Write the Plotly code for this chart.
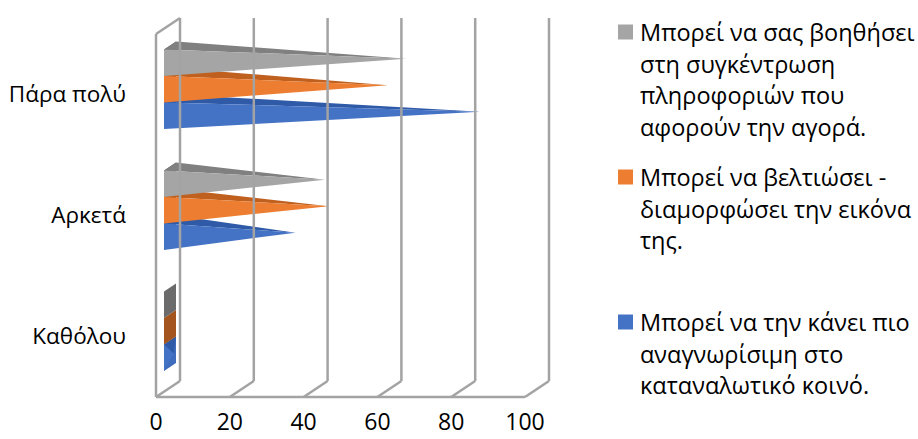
import plotly.graph_objects as go

# ---------------- data ----------------
categories = ["Καθόλου", "Αρκετά", "Πάρα πολύ"]          # bottom -> top
series_lines = [
    ["Μπορεί να την κάνει πιο", "αναγνωρίσιμη στο", "καταναλωτικό κοινό."],
    ["Μπορεί να βελτιώσει -", "διαμορφώσει την εικόνα", "της."],
    ["Μπορεί να σας βοηθήσει", "στη συγκέντρωση", "πληροφοριών που", "αφορούν την αγορά."],
]
blue_values = [1, 34, 84]
orange_values = [0, 43, 59]
grey_values = [0, 42, 64]
x_ticks = [0, 20, 40, 60, 80, 100]

values = [blue_values, orange_values, grey_values]
front_colors = ["#4472c4", "#ed7d31", "#a5a5a5"]
top_colors = ["#2f5aa8", "#c0601f", "#808080"]
base_colors = ["#3f6cbc", "#a4541f", "#6b6b6b"]

# ---------------- geometry (pixels) ----------------
W, H = 918, 439
FX0, FX1 = 156, 525          # front plane x for 0 and 100
FYB, FYT = 397, 34           # front plane y bottom / top
DEPX, DEPY = 24, 16          # full depth offset (right, up)
BAR_FRONT, BAR_BACK = 1 / 3, 5 / 6
mid = (BAR_FRONT + BAR_BACK) / 2

sx = (FX1 - FX0) / 100.0
sy = (FYB - FYT) / 3.0


def pxx(p):
    return p / W


def pxy(p):
    return 1 - p / H


def xdom(shift, lo, hi):
    return [pxx(FX0 + shift + lo * sx), pxx(FX0 + shift + hi * sx)]


def ydom(shift, lo, hi):
    return [pxy(FYB - shift - (lo + 0.5) * sy), pxy(FYB - shift - (hi + 0.5) * sy)]


dx = (BAR_BACK - BAR_FRONT) / 2 * DEPX / sx     # half bar depth in x units
dy = (BAR_BACK - BAR_FRONT) / 2 * DEPY / sy     # half bar depth in y units
half_h = 0.1095                                # half bar height (y units)
slot = 2 * half_h

fig = go.Figure()

# invisible trace so the labelled front axes are drawn
fig.add_trace(go.Scatter(x=[None], y=[None], xaxis="x", yaxis="y", mode="markers",
                         hoverinfo="skip", showlegend=False))

for si in range(3):
    off = (si - 1) * slot
    for ci, v in enumerate(values[si]):
        c = ci + off
        fig.add_trace(go.Scatter(
            x=[-dx, -dx, dx, dx, -dx],
            y=[c - half_h - dy, c + half_h - dy, c + half_h + dy, c - half_h + dy, c - half_h - dy],
            fill="toself", mode="lines", line=dict(width=0), fillcolor=base_colors[si],
            xaxis="x2", yaxis="y2", hoverinfo="skip", showlegend=False))
        if v > 0:
            fig.add_trace(go.Scatter(
                x=[-dx, dx, v, -dx],
                y=[c + half_h - dy, c + half_h + dy, c, c + half_h - dy],
                fill="toself", mode="lines", line=dict(width=0), fillcolor=top_colors[si],
                xaxis="x2", yaxis="y2", hoverinfo="skip", showlegend=False))
            fig.add_trace(go.Scatter(
                x=[-dx, -dx, v, -dx],
                y=[c + half_h - dy, c - half_h - dy, c, c + half_h - dy],
                fill="toself", mode="lines", line=dict(width=0), fillcolor=front_colors[si],
                xaxis="x2", yaxis="y2", hoverinfo="skip", showlegend=False))

# ---------------- 3D frame ----------------
line_style = dict(color="#a3a3a3", width=2.5)
shapes = []
for t in x_ticks:
    shapes.append(dict(type="line", xref="x3", yref="y3", x0=t, x1=t, y0=-0.5, y1=2.5,
                       line=line_style, layer="below"))
    shapes.append(dict(type="line", xref="x4", yref="y4", xsizemode="pixel", ysizemode="pixel",
                       xanchor=t, yanchor=-0.5, x0=0, x1=DEPX, y0=0, y1=DEPY,
                       line=line_style, layer="below"))
shapes.append(dict(type="line", xref="x4", yref="y4", x0=0, x1=100, y0=-0.5, y1=-0.5,
                   line=line_style, layer="below"))
shapes.append(dict(type="line", xref="x4", yref="y4", x0=0, x1=0, y0=-0.5, y1=2.5,
                   line=line_style, layer="below"))
shapes.append(dict(type="line", xref="x4", yref="y4", xsizemode="pixel", ysizemode="pixel",
                   xanchor=0, yanchor=2.5, x0=0, x1=DEPX, y0=0, y1=DEPY,
                   line=line_style, layer="below"))

# ---------------- legend (custom) ----------------
font_family = "Open Sans"
legend_tops = [322, 177, 32]     # blue, orange, grey (pixel y of first line)
line_gap = 31.7
annotations = []
for si in range(3):
    y0 = legend_tops[si]
    shapes.append(dict(type="rect", xref="paper", yref="paper",
                       x0=pxx(618), x1=pxx(633), y0=pxy(y0 + 7.5), y1=pxy(y0 - 7.5),
                       fillcolor=front_colors[si], line=dict(width=0)))
    for li, txt in enumerate(series_lines[si]):
        annotations.append(dict(xref="paper", yref="paper", x=pxx(638), y=pxy(y0 + li * line_gap),
                                xanchor="left", yanchor="middle", text=txt, showarrow=False,
                                font=dict(family=font_family, size=23.5, color="#000000")))

hidden = dict(visible=False, showgrid=False, zeroline=False, fixedrange=True)

fig.update_layout(
    template="none",
    width=W, height=H,
    margin=dict(l=0, r=0, t=0, b=0),
    paper_bgcolor="white", plot_bgcolor="rgba(0,0,0,0)",
    showlegend=False,
    font=dict(family=font_family, size=22, color="#000000"),
    xaxis=dict(domain=xdom(0, 0, 100), range=[0, 100], tickvals=x_ticks,
               showgrid=False, zeroline=False, showline=False, ticks="",
               ticklabelstandoff=9, anchor="y", automargin=False, fixedrange=True,
               tickfont=dict(size=23, family=font_family, color="#000000")),
    yaxis=dict(domain=ydom(0, -0.5, 2.5), range=[-0.5, 2.5], tickvals=[0, 1, 2],
               ticktext=categories, showgrid=False, zeroline=False, showline=False,
               ticks="", ticklabelstandoff=29, anchor="x", automargin=False, fixedrange=True,
               tickfont=dict(size=22.5, family=font_family, color="#000000")),
    xaxis2=dict(domain=xdom(mid * DEPX, -5, 100), range=[-5, 100], anchor="y2", **hidden),
    yaxis2=dict(domain=ydom(mid * DEPY, -0.5, 2.5), range=[-0.5, 2.5], anchor="x2", **hidden),
    xaxis3=dict(domain=xdom(DEPX, -3, 103), range=[-3, 103], anchor="y3", **hidden),
    yaxis3=dict(domain=ydom(DEPY, -0.55, 2.55), range=[-0.55, 2.55], anchor="x3", **hidden),
    xaxis4=dict(domain=xdom(0, -3, 110), range=[-3, 110], anchor="y4", **hidden),
    yaxis4=dict(domain=ydom(0, -0.55, 2.7), range=[-0.55, 2.7], anchor="x4", **hidden),
    shapes=shapes,
    annotations=annotations,
)

fig.write_html("out.html")
